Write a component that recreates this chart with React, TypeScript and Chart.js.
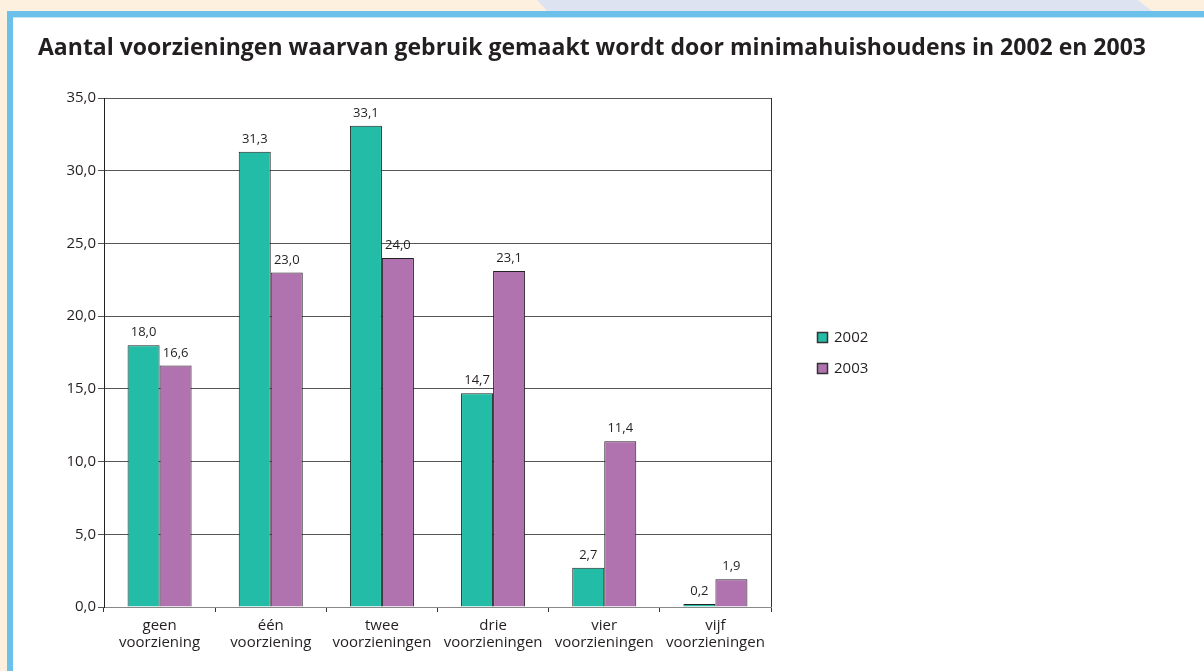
import React, { useEffect, useRef } from "react";
import { Chart, registerables } from "chart.js";

Chart.register(...registerables);

const TITLE =
  "Aantal voorzieningen waarvan gebruik gemaakt wordt door minimahuishoudens in 2002 en 2003";
const CATEGORIES: string[][] = [
  ["geen", "voorziening"],
  ["één", "voorziening"],
  ["twee", "voorzieningen"],
  ["drie", "voorzieningen"],
  ["vier", "voorzieningen"],
  ["vijf", "voorzieningen"],
];
const SERIES_NAMES = ["2002", "2003"];
const VALUES_2002 = [18.0, 31.3, 33.1, 14.7, 2.7, 0.2];
const VALUES_2003 = [16.6, 23.0, 24.0, 23.1, 11.4, 1.9];
const Y_MIN = 0;
const Y_MAX = 35;
const Y_STEP = 5;

const COLORS = ["#23bca6", "#b173b0"];
const FONT = "'Open Sans', 'Noto Sans', sans-serif";
const TEXT = "#231f20";

const fmt = (v: number) => v.toFixed(1).replace(".", ",");

const titlePlugin = {
  id: "titleText",
  afterDraw(chart: any) {
    const ctx = chart.ctx;
    ctx.save();
    ctx.font = `bold 23px ${FONT}`;
    ctx.fillStyle = TEXT;
    ctx.textAlign = "left";
    ctx.textBaseline = "alphabetic";
    ctx.fillText(TITLE, 25, 37);
    ctx.restore();
  },
};

const valueLabels = {
  id: "valueLabels",
  afterDatasetsDraw(chart: any) {
    const ctx = chart.ctx;
    ctx.save();
    ctx.font = `13px ${FONT}`;
    ctx.fillStyle = TEXT;
    ctx.textAlign = "center";
    ctx.textBaseline = "alphabetic";
    chart.data.datasets.forEach((ds: any, i: number) => {
      const meta = chart.getDatasetMeta(i);
      meta.data.forEach((bar: any, j: number) => {
        ctx.fillText(fmt(ds.data[j]), bar.x, bar.y - 9);
      });
    });
    ctx.restore();
  },
};

const frame = {
  id: "frame",
  afterDraw(chart: any) {
    const { ctx, chartArea } = chart;
    ctx.save();
    ctx.strokeStyle = "#333";
    ctx.lineWidth = 1;
    ctx.beginPath();
    ctx.moveTo(Math.round(chartArea.right) + 0.5, chartArea.top);
    ctx.lineTo(Math.round(chartArea.right) + 0.5, chartArea.bottom);
    ctx.stroke();
    ctx.restore();
  },
};

const customLegend = {
  id: "customLegend",
  afterDraw(chart: any) {
    const ctx = chart.ctx;
    ctx.save();
    ctx.font = `15px ${FONT}`;
    ctx.textBaseline = "middle";
    ctx.textAlign = "left";
    chart.data.datasets.forEach((ds: any, i: number) => {
      const x = 804;
      const y = 314 + i * 31;
      ctx.fillStyle = ds.backgroundColor;
      ctx.fillRect(x, y, 11, 11);
      ctx.strokeStyle = "#333";
      ctx.lineWidth = 1.5;
      ctx.strokeRect(x + 0.5, y + 0.5, 10, 10);
      ctx.fillStyle = TEXT;
      ctx.fillText(ds.label, x + 17, y + 6);
    });
    ctx.restore();
  },
};

export default function App() {
  const ref = useRef<HTMLCanvasElement>(null);
  useEffect(() => {
    if (!ref.current) return;
    const chart = new Chart(ref.current, {
      type: "bar",
      data: {
        labels: CATEGORIES,
        datasets: [
          {
            label: SERIES_NAMES[0],
            data: VALUES_2002,
            backgroundColor: COLORS[0],
            borderColor: "#222",
            borderWidth: 1,
            categoryPercentage: 0.576,
            barPercentage: 1,
          },
          {
            label: SERIES_NAMES[1],
            data: VALUES_2003,
            backgroundColor: COLORS[1],
            borderColor: "#222",
            borderWidth: 1,
            categoryPercentage: 0.576,
            barPercentage: 1,
          },
        ],
      },
      options: {
        animation: false,
        responsive: false,
        maintainAspectRatio: false,
        layout: { padding: { left: 25, right: 433, top: 80, bottom: 0 } },
        plugins: {
          legend: { display: false },
          tooltip: { enabled: false },
          title: { display: false },
        },
        scales: {
          x: {
            grid: {
              display: true,
              drawOnChartArea: false,
              drawTicks: true,
              tickLength: 5,
              color: "#333",
              offset: true,
            },
            border: { display: true, color: "#888", width: 1 },
            ticks: {
              color: TEXT,
              font: { family: FONT, size: 15, lineHeight: 1.13 },
              padding: 5,
              maxRotation: 0,
              autoSkip: false,
            },
            afterFit(scale: any) {
              scale.height = 64;
            },
          },
          y: {
            min: Y_MIN,
            max: Y_MAX,
            grid: {
              color: "#555",
              tickLength: 6,
              drawTicks: true,
            },
            border: { display: true, color: "#222", width: 1 },
            ticks: {
              stepSize: Y_STEP,
              color: TEXT,
              font: { family: FONT, size: 15 },
              padding: 2,
              callback: (v: any) => fmt(Number(v)),
            },
            afterFit(scale: any) {
              scale.width = 66;
            },
          },
        },
      },
      plugins: [valueLabels, frame, customLegend, titlePlugin],
    });
    return () => chart.destroy();
  }, []);

  return (
    <div
      style={{
        position: "absolute",
        left: 0,
        top: 0,
        width: 1204,
        height: 671,
        background: "#fdf0df",
        overflow: "hidden",
      }}
    >
      <svg
        width={1204}
        height={12}
        style={{ position: "absolute", left: 0, top: 0 }}
      >
        <polygon points="537,0 1138,0 1153,12 548,12" fill="#dde3f1" />
      </svg>
      <div
        style={{
          position: "absolute",
          left: 7,
          top: 11,
          width: 1197,
          height: 6,
          background: "#6cc1ea",
        }}
      />
      <div
        style={{
          position: "absolute",
          left: 7,
          top: 11,
          width: 6,
          height: 660,
          background: "#6cc1ea",
        }}
      />
      <div
        style={{
          position: "absolute",
          left: 13,
          top: 17,
          width: 1191,
          height: 654,
          background: "#ffffff",
          borderTop: "1px solid #c4e6f7",
          boxSizing: "border-box",
        }}
      />
      <canvas
        ref={ref}
        width={1191}
        height={653}
        style={{ position: "absolute", left: 13, top: 18, width: 1191, height: 653 }}
      />
    </div>
  );
}
